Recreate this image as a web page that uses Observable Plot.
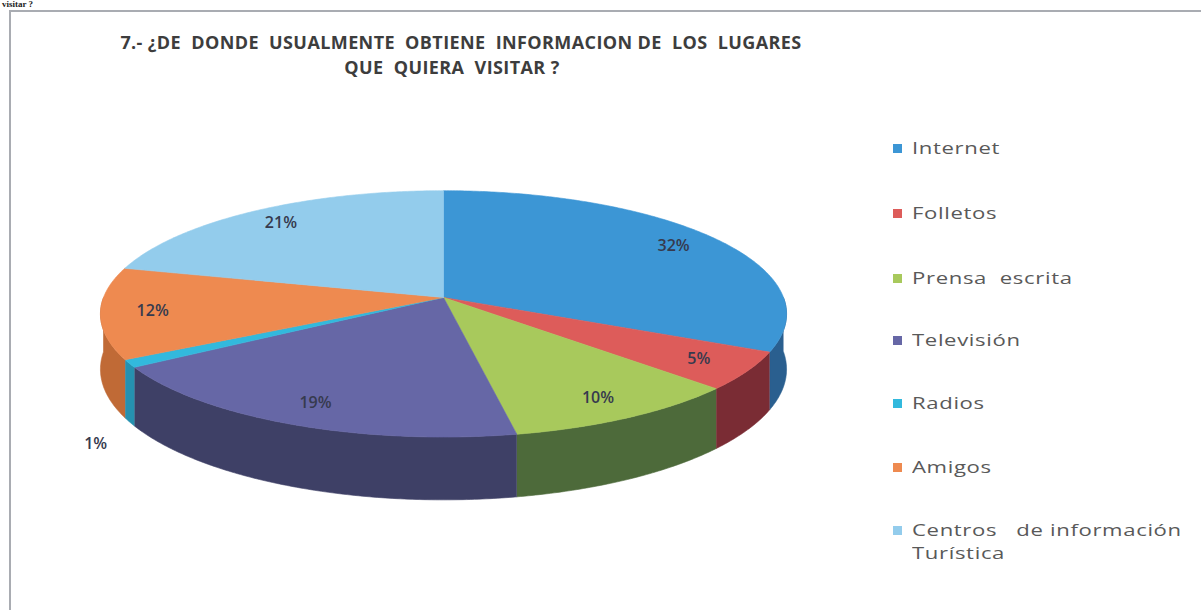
<!DOCTYPE html>
<html>
<head>
<meta charset="utf-8">
<script src="https://cdn.jsdelivr.net/npm/d3@7"></script>
<script src="https://cdn.jsdelivr.net/npm/@observablehq/plot@0.6"></script>
<style>
  html, body { margin: 0; padding: 0; background: #fff; width: 1201px; height: 610px; overflow: hidden; }
  #wrap { position: relative; width: 1201px; height: 610px; }
  #chart { position: absolute; left: 0; top: 0; }
  #frame { position: absolute; left: 9px; top: 10px; width: 1200px; height: 610px; border-top: 2px solid #a9acb2; border-left: 2px solid #a9acb2; box-sizing: border-box; }
  #cut { position: absolute; left: 2px; top: -1px; font: bold 9px "Liberation Serif", serif; line-height: 10px; color: #222; }
  .title { position: absolute; font-family: "Open Sans", sans-serif; font-weight: bold; font-size: 18px; letter-spacing: 0.4px; color: #3d3d3d; white-space: pre; transform: translateX(-50%); }
  .leg { position: absolute; left: 893px; font-family: "Open Sans", sans-serif; font-size: 17px; color: #595959; white-space: pre; letter-spacing: 0.5px; line-height: 23px; }
  .leg i { position: absolute; left: 0; top: 8px; width: 9px; height: 9px; }
  .leg span { position: absolute; left: 19px; top: 0; display: inline-block; transform: scaleX(1.3); transform-origin: 0 0; }
</style>
</head>
<body>
<div id="wrap">
  <div id="cut">visitar ?</div>
  <div id="frame"></div>
  <div id="chart"></div>
  <div id="titles"></div>
  <div id="legend"></div>
</div>
<script>
// ---- data ----
const categories = ["Internet", "Folletos", "Prensa  escrita", "Televisión", "Radios", "Amigos", "Centros   de información\nTurística"];
const values = [32, 5, 10, 19, 1, 12, 21];
const labels = ["32%", "5%", "10%", "19%", "1%", "12%", "21%"];
const topColors = ["#3c96d5", "#dd5c5a", "#a8c95c", "#6667a6", "#32b9dd", "#ee8a50", "#93ccec"];
const sideColors = ["#2a5f8f", "#7a2c34", "#4d6a3a", "#3e4066", "#2591b0", "#c06a36", "#6a9ec0"];
const titleLines = ["7.- ¿DE  DONDE  USUALMENTE  OBTIENE  INFORMACION DE  LOS  LUGARES", "QUE  QUIERA  VISITAR ?"];

// ---- 3D pie geometry (unit disk, simple perspective) ----
const P = 0.133;      // perspective strength
const DEPTH = 0.45;   // thickness, in vertical radius units
function proj(r, t, down = 0) {
  const c = r * Math.sin(t), s = -r * Math.cos(t);
  const f = 1 / (1 - P * s);
  return {X: c * f, Y: (s + down) * f};
}
const arcs = d3.pie().sort(null).value(d => d)(values);
const tops = [], sides = [], texts = [];
arcs.forEach((a, i) => {
  const n = Math.max(2, Math.ceil((a.endAngle - a.startAngle) / 0.01));
  const poly = [{...proj(0, 0), i}];
  for (let k = 0; k <= n; k++) {
    const t = a.startAngle + (a.endAngle - a.startAngle) * k / n;
    poly.push({...proj(1, t), i});
  }
  poly.push({...proj(0, 0), i});
  tops.push(poly);
  const t0 = Math.max(a.startAngle, Math.PI / 2), t1 = Math.min(a.endAngle, 3 * Math.PI / 2);
  if (t1 > t0) {
    const m = Math.max(2, Math.ceil((t1 - t0) / 0.01));
    const up = [], dn = [];
    for (let k = 0; k <= m; k++) {
      const t = t0 + (t1 - t0) * k / m;
      up.push({...proj(1, t), i});
      dn.push({...proj(1, t, DEPTH), i});
    }
    sides.push(up.concat(dn.reverse()));
  }
  const mid = (a.startAngle + a.endAngle) / 2;
  if (values[i] < 3) {
    const o = proj(1.1, mid, DEPTH);
    texts.push({X: o.X, Y: o.Y + 0.12, label: labels[i]});
  } else {
    const o = proj(0.85, mid);
    texts.push({X: o.X, Y: o.Y, label: labels[i]});
  }
});

// pixel mapping: centre at (443, 297), radii 340 x 121
const W = 1201, H = 610, CX = 443, CY = 297, RX = 340, RY = 121;
const marks = [];
sides.forEach(poly => marks.push(Plot.line(poly, {x: "X", y: "Y", fill: sideColors[poly[0].i], stroke: sideColors[poly[0].i], strokeWidth: 0.6})));
tops.forEach(poly => marks.push(Plot.line(poly, {x: "X", y: "Y", fill: topColors[poly[0].i], stroke: topColors[poly[0].i], strokeWidth: 0.6})));
marks.push(Plot.text(texts, {x: "X", y: "Y", text: "label", fontSize: 16, fontFamily: "Open Sans", fontWeight: 600, fill: "#363a4e", letterSpacing: 2}));

const chart = Plot.plot({
  width: W, height: H,
  margin: 0,
  x: {domain: [-CX / RX, (W - CX) / RX], range: [0, W], axis: null},
  y: {domain: [-CY / RY, (H - CY) / RY], range: [0, H], axis: null},
  style: {background: "transparent"},
  marks
});
document.getElementById("chart").append(chart);

// ---- title ----
const tdiv = document.getElementById("titles");
titleLines.forEach((s, k) => {
  const d = document.createElement("div");
  d.className = "title";
  d.textContent = s;
  d.style.left = (k === 0 ? 461 : 452) + "px";
  d.style.top = (30 + k * 25) + "px";
  tdiv.append(d);
});

// ---- legend ----
const ldiv = document.getElementById("legend");
const legTops = [136, 201, 266, 328, 391, 455, 518];
categories.forEach((c, i) => {
  const d = document.createElement("div");
  d.className = "leg";
  d.style.top = legTops[i] + "px";
  const sw = document.createElement("i");
  sw.style.background = topColors[i];
  d.append(sw);
  const sp = document.createElement("span");
  const parts = c.split("\n");
  sp.append(document.createTextNode(parts[0]));
  if (parts[1]) { sp.append(document.createElement("br")); sp.append(document.createTextNode(parts[1])); }
  d.append(sp);
  ldiv.append(d);
});
</script>
</body>
</html>
